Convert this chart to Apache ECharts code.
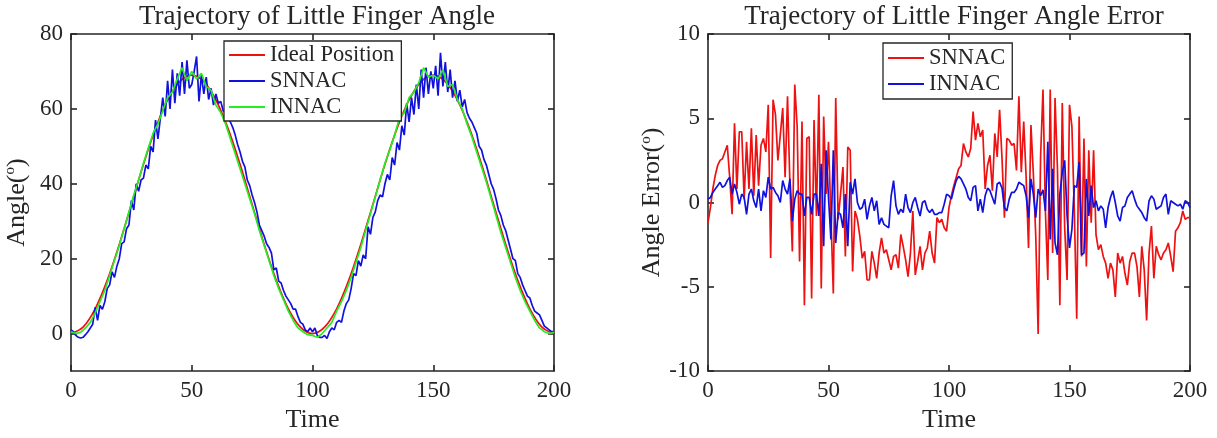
<!DOCTYPE html>
<html>
<head>
<meta charset="utf-8">
<script src="https://cdn.jsdelivr.net/npm/echarts@6/dist/echarts.min.js"></script>
<style>
html,body{margin:0;padding:0;background:#fff;}
#c{width:1217px;height:438px;}
</style>
</head>
<body>
<div id="c"></div>
<script>
// ---------- data ----------
const titleLeft = 'Trajectory of Little Finger Angle';
const titleRight = 'Trajectory of Little Finger Angle Error';
const xTicks = [0, 50, 100, 150, 200];
const angleTicks = [0, 20, 40, 60, 80];
const errorTicks = [-10, -5, 0, 5, 10];

// time grids (sampling steps of each curve)
const time = Array.from({length: 201}, (_, i) => i);
const timeIdeal = Array.from({length: 41}, (_, i) => i * 5);
const timeInnac = Array.from({length: 101}, (_, i) => i * 2);

const idealAngle = [0,1.7,6.6,14.2,23.8,34.5,45.2,54.8,62.4,67.3,69,67.3,62.4,54.8,45.2,34.5,23.8,14.2,6.6,1.7,
  0,1.7,6.6,14.2,23.8,34.5,45.2,54.8,62.4,67.3,69,67.3,62.4,54.8,45.2,34.5,23.8,14.2,6.6,1.7,0];

const snnacAngle = [
  1.0,0.5,-0.5,-1.0,-1.2,-1.0,-0.3,0.5,1.5,2.5,
  7.0,3.5,7.5,6.5,8.5,12.0,13.0,16.5,15.0,18.0,
  20.0,24.0,24.5,28.0,29.0,35.5,33.0,40.0,38.0,41.0,
  41.5,45.0,44.0,50.0,48.5,57.0,52.0,57.5,63.0,58.0,
  67.5,60.0,70.5,61.5,69.5,63.5,72.5,64.0,73.0,65.5,
  66.5,70.0,74.0,62.0,69.0,64.0,68.5,62.5,65.5,61.0,
  64.0,61.5,62.0,59.5,59.0,57.5,56.5,55.0,53.0,50.5,
  48.5,46.0,44.5,41.0,39.5,37.0,35.0,32.5,29.0,27.5,
  26.0,24.0,23.0,21.5,17.0,17.5,14.0,13.5,11.5,10.0,
  9.0,8.0,6.5,6.5,4.5,3.0,2.5,1.0,0.5,1.5,
  0.5,1.5,-0.5,-1.0,-1.0,-0.5,-1.3,0.5,1.5,1.0,
  3.0,3.5,3.0,6.0,8.0,9.0,12.0,16.0,15.5,19.5,
  18.0,21.0,20.0,28.5,26.5,31.0,32.5,35.5,37.0,36.5,
  40.0,42.5,41.0,47.0,45.0,51.0,49.0,55.5,53.0,61.5,
  56.5,63.0,58.5,66.5,60.0,70.5,63.0,71.0,64.0,70.0,
  65.5,71.5,63.5,75.0,66.0,72.5,64.5,70.5,63.0,67.5,
  62.0,65.0,60.5,62.5,59.0,57.5,56.5,55.0,53.5,50.0,
  49.0,46.5,45.0,42.5,40.0,38.5,36.0,33.0,31.5,29.0,
  27.5,25.0,22.5,20.0,19.5,16.0,15.0,13.0,11.5,10.0,
  9.5,7.5,6.0,5.5,5.0,3.5,2.0,1.5,1.0,0.5,
  0.5];

const innacAngle = [
  0.5,0.0,0.3,1.5,3.0,5.5,8.5,11.5,15.5,19.5,
  23.5,28.0,32.5,37.0,41.0,45.5,49.5,53.5,56.0,59.5,
  63.0,64.5,68.0,71.0,67.5,70.0,68.0,69.5,66.0,65.0,
  61.0,59.0,56.0,52.0,48.0,44.0,40.0,36.0,32.0,27.5,
  23.5,19.5,15.5,12.0,9.0,6.0,3.5,1.5,0.5,-0.3,
  -0.5,-1.0,0.0,1.5,3.0,6.0,8.5,11.5,15.0,19.0,
  23.0,27.5,32.0,36.5,41.0,45.5,49.0,53.0,57.5,59.0,
  63.0,64.5,67.0,71.0,68.5,69.0,68.0,70.5,66.0,66.5,
  62.5,60.0,56.0,52.5,48.5,44.5,40.5,36.0,31.5,27.0,
  23.0,19.0,15.0,11.5,8.5,6.0,3.5,1.5,0.5,0.0,
  0.3];

const snnacError = [
  -1.2,-0.3,0.8,1.6,2.2,2.5,2.6,3.0,3.4,1.5,
  -0.7,4.7,0.8,4.2,4.2,0.2,3.6,0.8,4.4,0.4,
  4.0,1.0,3.4,3.8,3.0,5.8,-3.3,6.1,5.2,2.5,
  4.0,5.6,1.5,6.3,1.0,-2.9,7.0,4.5,-3.5,4.8,
  -6.1,3.8,3.9,-5.7,4.9,-0.8,6.4,-5.1,5.1,0.5,
  3.6,-0.8,-5.4,6.2,-1.0,0.5,2.1,-3.2,3.3,3.1,
  -4.1,-0.5,-1.0,-2.0,-3.3,-2.9,-4.6,-4.6,-2.9,-3.6,
  -4.5,-3.0,-2.1,-3.0,-2.8,-3.4,-4.0,-3.2,-3.1,-3.9,
  -1.9,-2.6,-3.4,-4.4,-3.0,-0.5,-4.3,-3.5,-2.6,-4.0,
  -3.0,-2.7,-1.7,-3.0,-3.6,-0.9,-1.2,-1.0,-1.5,-1.7,
  -0.3,0.4,1.0,1.5,2.0,2.2,3.5,3.0,2.7,3.2,
  5.4,3.7,4.7,3.9,4.3,0.8,2.2,2.8,0.7,4.1,
  2.7,5.5,2.6,-0.9,3.8,3.7,3.4,3.5,1.9,6.3,
  1.8,4.8,1.5,-2.7,4.6,1.7,-2.0,-7.8,2.7,6.7,
  -0.5,-4.6,6.7,-3.0,6.2,2.0,-6.1,5.9,-1.5,-4.6,
  5.8,4.5,-0.5,-6.9,5.1,-3.2,3.8,-3.8,3.1,-1.2,
  3.1,-1.9,-2.8,-2.5,-3.2,-3.6,-4.5,-3.6,-4.0,-5.6,
  -3.0,-3.6,-3.2,-4.2,-4.9,-3.5,-3.0,-3.0,-3.8,-5.6,
  -2.6,-4.0,-7.0,-3.0,-1.4,-4.5,-2.6,-3.1,-3.4,-3.0,
  -2.8,-2.4,-3.2,-4.1,-1.7,-1.5,-1.2,-0.5,-1.0,-0.9,
  -0.9];

const innacError = [
  0.2,0.3,0.6,0.8,1.0,1.2,0.9,1.0,1.3,1.5,
  0.5,1.1,0.6,-0.1,0.5,0.3,-0.7,0.5,0.8,0.1,
  -0.3,0.8,-0.5,0.7,0.3,1.5,0.8,0.9,0.6,0.4,
  0.0,1.3,0.8,0.5,1.4,-1.1,0.2,0.7,0.5,0.5,
  -0.8,0.3,0.3,-0.7,0.5,0.5,-0.8,2.3,-2.6,3.1,
  0.3,-2.2,3.1,-2.4,-0.6,-0.7,-1.5,0.5,-2.6,1.2,
  0.5,1.4,0.0,-0.4,-0.3,0.2,-1.0,-0.2,0.3,-0.5,
  0.1,-1.3,-0.9,-1.3,-1.4,-1.5,0.4,1.3,-0.2,-0.7,
  -0.4,-0.6,0.5,-0.3,-0.6,0.0,0.3,-0.3,-0.8,0.0,
  0.1,-0.4,-0.6,-0.4,-0.7,-0.7,-0.6,-0.6,-0.1,0.5,
  0.4,0.2,0.8,1.3,1.55,1.4,1.1,0.8,0.3,0.1,
  0.9,1.0,-0.5,0.2,-0.6,0.4,0.85,0.7,0.3,-0.1,
  1.1,1.2,0.85,-0.3,-0.5,0.2,0.6,0.6,0.8,1.2,
  1.1,1.0,0.4,-0.9,1.4,0.5,-0.9,0.8,0.4,0.75,
  -0.5,3.6,-2.2,2.0,-2.4,-3.1,0.5,1.8,2.5,-0.8,
  -2.7,-1.6,1.0,0.9,2.4,-3.1,-3.0,1.4,-0.8,1.0,
  -0.3,0.1,-0.5,-0.2,-0.4,-1.5,-0.3,0.3,0.7,0.0,
  -0.8,-1.1,-0.3,-0.2,0.3,0.5,0.7,0.2,-0.2,-0.4,
  -0.6,-0.9,-1.1,0.1,0.4,0.2,-0.4,-0.3,-0.2,0.3,
  0.5,-0.7,0.1,0.0,-0.1,-0.2,-0.1,-0.4,0.1,0.0,
  -0.3];

// ---------- chart ----------
const FONT = 'Liberation Serif';
const INK = '#262626';
const RED = '#ee1111', BLUE = '#1111dd', GREEN = '#22ee22';
const pair = (xs, ys) => xs.map((x, i) => [x, ys[i]]);

const axisLine = {show: true, onZero: false, lineStyle: {color: INK, width: 1.6}};
const tickIn = {show: true, inside: true, length: 6, lineStyle: {color: INK, width: 1.6}};
const lbl = {fontFamily: FONT, fontSize: 23, color: INK};
const nameStyle = {
  fontFamily: FONT, fontSize: 26, color: INK,
  rich: {
    n: {fontFamily: FONT, fontSize: 26, color: INK},
    s: {fontFamily: FONT, fontSize: 15, color: INK, padding: [0, 0, 13, 0]}
  }
};

function xAxes(gi) {
  return [
    {gridIndex: gi, type: 'value', min: 0, max: 200, interval: 50, position: 'bottom',
     axisLine, axisTick: tickIn, splitLine: {show: false},
     axisLabel: Object.assign({margin: 8, customValues: xTicks}, lbl),
     name: 'Time', nameLocation: 'middle', nameGap: 36,
     nameTextStyle: {fontFamily: FONT, fontSize: 26, color: INK}},
    {gridIndex: gi, type: 'value', min: 0, max: 200, interval: 50, position: 'top',
     axisLine, axisTick: tickIn, splitLine: {show: false}, axisLabel: {show: false}}
  ];
}
function yAxes(gi, min, max, ticks, name) {
  return [
    {gridIndex: gi, type: 'value', min, max, position: 'left',
     axisLine, splitLine: {show: false},
     axisTick: Object.assign({}, tickIn, {customValues: ticks}),
     axisLabel: Object.assign({margin: 8, customValues: ticks}, lbl),
     name, nameLocation: 'middle', nameGap: 40, nameTextStyle: nameStyle},
    {gridIndex: gi, type: 'value', min, max, position: 'right',
     axisLine, splitLine: {show: false},
     axisTick: Object.assign({}, tickIn, {customValues: ticks}),
     axisLabel: {show: false}}
  ];
}
function line(name, xi, yi, data, color, extra) {
  return Object.assign({
    type: 'line', name, xAxisIndex: xi, yAxisIndex: yi, data,
    showSymbol: false, symbol: 'none', animation: false,
    lineStyle: {color, width: 1.7}, itemStyle: {color}
  }, extra || {});
}
const legendBase = {
  orient: 'vertical', selectedMode: false, icon: 'rect',
  itemWidth: 36, itemHeight: 2, itemGap: 0,
  borderColor: INK, borderWidth: 1.3, backgroundColor: '#fff',
  textStyle: {fontFamily: FONT, fontSize: 22.5, color: INK, lineHeight: 26}
};

const chart = echarts.init(document.getElementById('c'), null, {renderer: 'canvas'});
chart.setOption({
  backgroundColor: '#fff',
  animation: false,
  title: [
    {text: titleLeft, left: 312, top: -2, textAlign: 'center',
     textStyle: {fontFamily: FONT, fontSize: 27, fontWeight: 'normal', color: INK}},
    {text: titleRight, left: 949, top: -2, textAlign: 'center',
     textStyle: {fontFamily: FONT, fontSize: 27, fontWeight: 'normal', color: INK}}
  ],
  grid: [
    {left: 71, top: 34, width: 483, height: 338},
    {left: 708, top: 34, width: 482, height: 338}
  ],
  xAxis: [...xAxes(0), ...xAxes(1)],
  yAxis: [
    ...yAxes(0, -10, 80, angleTicks, '{n|Angle(}{s|o}{n|)}'),
    ...yAxes(1, -10, 10, errorTicks, '{n|Angle Error(}{s|o}{n|)}')
  ],
  legend: [
    Object.assign({}, legendBase, {left: 224, top: 41, padding: [1, 7, 1, 5],
      data: ['Ideal Position', 'SNNAC', 'INNAC']}),
    Object.assign({}, legendBase, {left: 883, top: 43, padding: [2, 7, 2, 5],
      data: ['SNNAC_err', 'INNAC_err'],
      formatter: n => n.replace('_err', '')})
  ],
  series: [
    line('Ideal Position', 0, 0, pair(timeIdeal, idealAngle), RED, {smooth: 0.35}),
    line('SNNAC', 0, 0, pair(time, snnacAngle), BLUE),
    line('INNAC', 0, 0, pair(timeInnac, innacAngle), GREEN),
    line('SNNAC_err', 2, 2, pair(time, snnacError), RED),
    line('INNAC_err', 2, 2, pair(time, innacError), BLUE)
  ]
});
</script>
</body>
</html>
